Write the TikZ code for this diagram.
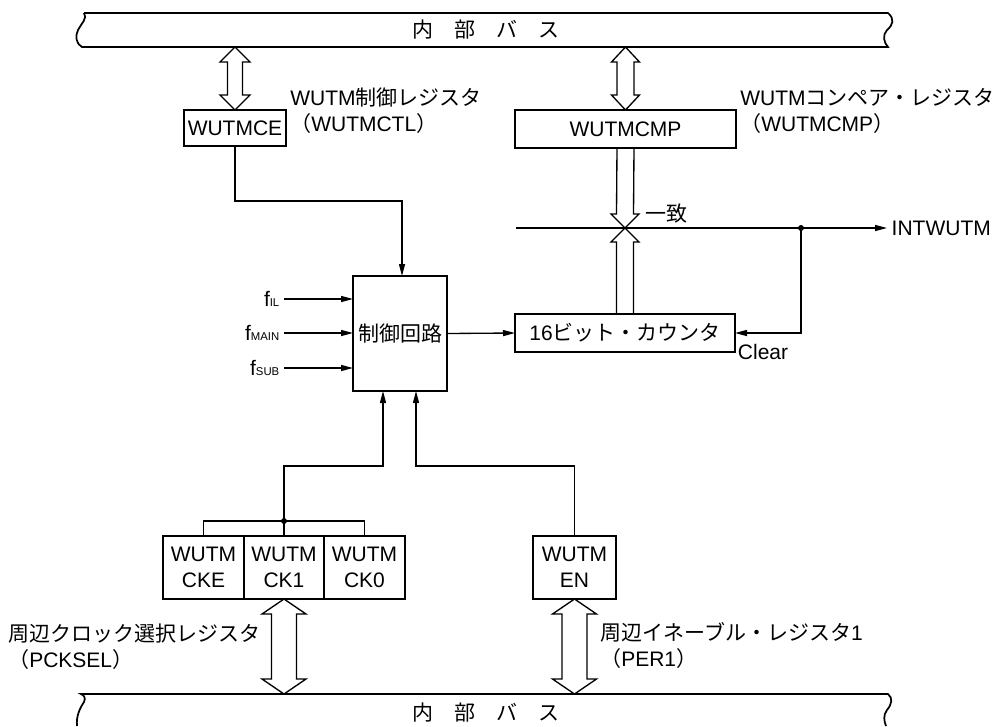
\documentclass[tikz,border=0pt]{standalone}
\usepackage{fontspec}
\setmainfont{Liberation Sans}
\newfontfamily\jpfont{Noto Sans CJK JP}
\usetikzlibrary{arrows.meta, positioning, calc}

\newcommand\jp[1]{{\jpfont #1}}
\newcommand\fclk[1]{f{\fontsize{8.5}{8.5}\selectfont #1}}
% open double arrow between two points on one vertical
\newcommand\dblarrow[5]{%
  \draw[bar] (#1) -- ($(#1)+(#4,#5)$) -- ($(#1)+(#3,#5)$) -- ($(#2)+(#3,0)-(0,#5)$)
    -- ($(#2)+(#4,0)-(0,#5)$) -- (#2) -- ($(#2)-(#4,#5)$) -- ($(#2)-(#3,#5)$)
    -- ($(#1)+(0,#5)-(#3,0)$) -- ($(#1)+(0,#5)-(#4,0)$) -- cycle;}
% open single arrow, head length signed (+ down, - up)
\newcommand\onearrow[5]{%
  \draw[bar] ($(#1)-(#3,0)$) -- ($(#2)-(#3,#5)$) -- ($(#2)-(#4,#5)$) -- (#2)
    -- ($(#2)+(#4,0)-(0,#5)$) -- ($(#2)+(#3,0)-(0,#5)$) -- ($(#1)+(#3,0)$);}

\begin{document}
\begin{tikzpicture}[x=0.75pt, y=-0.75pt,
  font=\fontsize{15.75}{19.5}\selectfont,
  box/.style={draw, line width=2.1pt, inner sep=0pt, outer sep=0pt, align=center},
  cell/.style={draw, line width=1pt, inner sep=0pt, outer sep=0pt, align=center,
    minimum width=60.75pt, minimum height=47.25pt},
  sig/.style={line width=1pt, -{Triangle[length=9pt,width=4.5pt]}},
  bar/.style={line width=1pt, line join=miter},
  bus/.style={line width=1.3pt},
  lbl/.style={anchor=west, align=left, inner sep=0pt}]
\useasboundingbox (0,0) rectangle (996,726);

% internal buses
\draw[bus] (84,13) -- (888,13) .. controls (895,19) and (893,25) .. (887,30)
  .. controls (882,35) and (884,43) .. (888,47) -- (82,47)
  .. controls (76,44) and (75,36) .. (78,30) .. controls (81,24) and (88,18) .. (84,13);
\node (topbus) at (486,30) {\jp{内　部　バ　ス}};
\coordinate (tbs) at (0,47);
\draw[bus] (77,726) .. controls (76,716) and (80,708) .. (84,702)
  .. controls (86,698) and (84,695) .. (81,694) -- (888,694)
  .. controls (893,698) and (892,704) .. (887,710) .. controls (883,715) and (884,721) .. (886,726);
\node (botbus) at (486,713) {\jp{内　部　バ　ス}};
\coordinate (bbn) at (0,694);

% registers
\node[box, minimum width=76.5pt, minimum height=27pt] (ce) at (235,128) {WUTMCE};
\node[lbl] (cetxt) at (290,111) {WUTM\jp{制御レジスタ}\\\jp{（}WUTMCTL\jp{）}};
\node[box, minimum width=165.75pt, minimum height=28.5pt] (cmp) at (625.5,129) {WUTMCMP};
\node[lbl] (cmptxt) at (740,111) {WUTM\jp{コンペア・レジスタ}\\\jp{（}WUTMCMP\jp{）}};
\node[box, minimum width=70.5pt, minimum height=86.25pt] (ctl) at (400,333.5) {\jp{制御回路}};
\node[box, minimum width=165pt, minimum height=28.5pt] (cnt) at (625,333) {16\jp{ビット・カウンタ}};

\foreach \nm/\lab/\xx in {cke/CKE/203.5, ck1/CK1/284, ck0/CK0/364.5} {
  \node[cell] (\nm) at (\xx,567.5) {WUTM\\\lab};
}
\draw[line width=2.1pt] (cke.north west) rectangle (ck0.south east);
\node[box, minimum width=62.25pt, minimum height=47.25pt] (en) at (574.5,567.5) {WUTM\\EN};

\node[lbl] (pcktxt) at (8,647) {\jp{周辺クロック選択レジスタ}\\\jp{（}PCKSEL\jp{）}};
\node[lbl] (pertxt) at (600,645) {\jp{周辺イネーブル・レジスタ}1\\\jp{（}PER1\jp{）}};

% bus transfers
\dblarrow{ce.north |- tbs}{ce.north}{7.5}{15}{15}
\dblarrow{cmp.north |- tbs}{cmp.north}{8.5}{14}{15}
\dblarrow{ck1.south}{ck1.south |- bbn}{12.5}{22}{15}
\dblarrow{en.south}{en.south |- bbn}{12.5}{22}{15}

% compare match
\coordinate (match) at (625,228);
\onearrow{cmp.south}{match}{8.5}{14}{14}
\onearrow{cnt.north}{match}{8.5}{14}{-14}
\node[anchor=west, inner sep=0pt] (itchi) at (645,214) {\jp{一致}};
\node[anchor=west] (intw) at (887,228) {INTWUTM};
\coordinate (cmpin) at (516,228);
\draw[sig] (cmpin) -- (intw.west);
\coordinate (tap) at (801,228);
\fill (tap) circle[radius=2.25pt];
\draw[sig] (tap) |- (cnt.east);
\node[anchor=west, inner sep=2pt] (clr) at (cnt.south east) {Clear};

% clock inputs
\foreach \nm/\sb/\yy in {fil/IL/299, fmain/MAIN/333, fsub/SUB/368} {
  \node[anchor=east] (\nm) at (284,\yy) {\fclk{\sb}};
  \draw[sig] (\nm.east) -- (\nm.east -| ctl.west);
}
\draw[sig] (ctl.east) -- (cnt.west);

% control lines
\draw[sig] (ce.south) -- ++(0,55) -| ($(ctl.north)+(2,0)$);
\coordinate (ckj) at ($(ck1.north)+(0,-15)$);
\draw[line width=1pt] (cke.north) |- (ckj) -| (ck0.north);
\draw[line width=1pt] (ck1.north) -- (ckj);
\fill (ckj) circle[radius=2.25pt];
\draw[sig] (ckj) -- ++(0,-55) -| ($(ctl.south)+(-17,0)$);
\draw[sig] (en.north) -- ++(0,-70) -| ($(ctl.south)+(16,0)$);
\end{tikzpicture}
\end{document}
